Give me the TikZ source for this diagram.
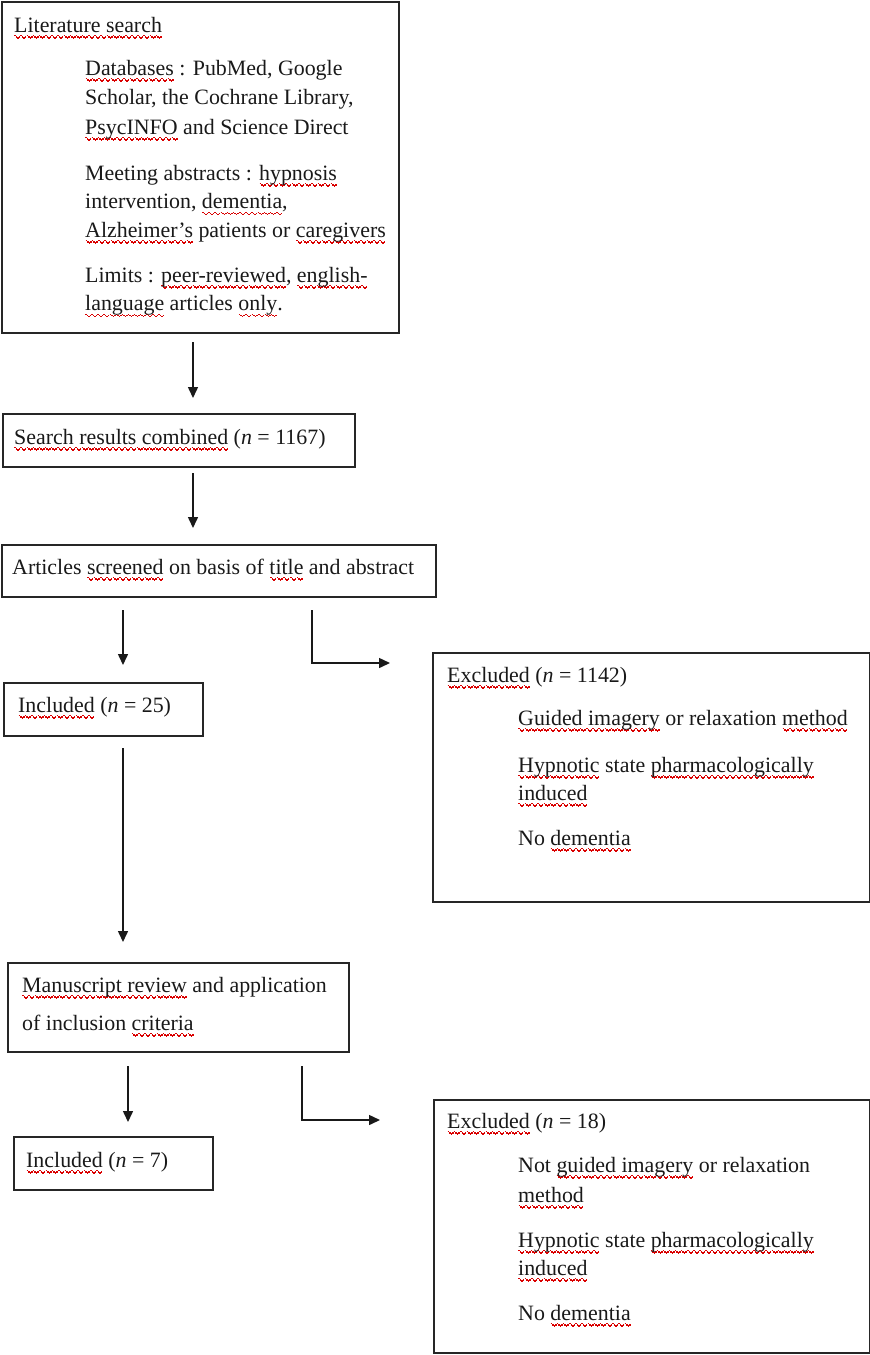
\documentclass[tikz,border=0pt]{standalone}
\usepackage{fontspec}
\setmainfont{Liberation Serif}
\usetikzlibrary{arrows.meta}
\newsavebox\rwbox
\newcommand\wavebit{\hbox{\rule[-4.4pt]{1.5pt}{1.4pt}\rule[-5.5pt]{1.5pt}{1.4pt}\rule[-6.6pt]{1.5pt}{1.4pt}\rule[-5.5pt]{1.5pt}{1.4pt}}}
\newcommand\rw[1]{\sbox\rwbox{#1}\rlap{\color{red!85!black}\hbox to\wd\rwbox{\xleaders\wavebit\hfil}}\usebox\rwbox}
\newcommand\fsz[1]{\fontsize{21.9}{#1}\selectfont}
\tikzset{
  box/.style={draw=black!85, line width=1.6pt, inner sep=0pt, anchor=north west},
  txt/.style={anchor=base west, inner sep=0pt, align=left, text=black!90},
  arr/.style={draw=black!90, line width=1.5pt, -{Triangle[length=11pt,width=10pt]}}
}
\begin{document}
\begin{tikzpicture}[x=1pt,y=-1pt]
\useasboundingbox (0,0) rectangle (870,1355);
% boxes
\node[box, minimum width=397pt, minimum height=331pt] (b1) at (1,1) {};
\node[box, minimum width=352pt, minimum height=53pt] (b2) at (2,413) {};
\node[box, minimum width=434pt, minimum height=52pt] (b3) at (1,544) {};
\node[box, minimum width=199pt, minimum height=53pt] (inc1) at (3,682) {};
\node[box, minimum width=437pt, minimum height=249pt] (exc1) at (432,652) {};
\node[box, minimum width=341pt, minimum height=89pt] (b4) at (7,962) {};
\node[box, minimum width=199pt, minimum height=53pt] (inc2) at (13,1136) {};
\node[box, minimum width=436pt, minimum height=253pt] (exc2) at (433,1099) {};
% texts (multi-line nodes: base anchor is on the last line)
\node[txt, font=\fsz{29.5}] (t1) at (14,32) {\rw{Literature search}};
\node[txt, font=\fsz{29.5}] (t2) at (85,134) {\rw{Databases} : PubMed, Google\\Scholar, the Cochrane Library,\\\rw{PsycINFO} and Science Direct};
\node[txt, font=\fsz{28.5}] (t3) at (85,237) {Meeting abstracts : \rw{hypnosis}\\intervention, \rw{dementia},\\\rw{Alzheimer’s} patients or \rw{caregivers}};
\node[txt, font=\fsz{28.5}] (t4) at (85,310.5) {Limits : \rw{peer-reviewed}, \rw{english-}\\\rw{language} articles \rw{only}.};
\node[txt, font=\fsz{29}] (t5) at (14,444) {\rw{Search results combined} (\textit{n} = 1167)};
\node[txt, font=\fsz{29}] (t6) at (12,574) {Articles \rw{screened} on basis of \rw{title} and abstract};
\node[txt, font=\fsz{29}] (t7) at (18,712) {\rw{Included} (\textit{n} = 25)};
\node[txt, font=\fsz{29}] (t8) at (447,682) {\rw{Excluded} (\textit{n} = 1142)};
\node[txt, font=\fsz{29}] (t9) at (518,725) {\rw{Guided imagery} or relaxation \rw{method}};
\node[txt, font=\fsz{28}] (t10) at (518,800) {\rw{Hypnotic} state \rw{pharmacologically}\\\rw{induced}};
\node[txt, font=\fsz{29}] (t11) at (518,845) {No \rw{dementia}};
\node[txt, font=\fsz{38}] (t12) at (22,1030) {\rw{Manuscript review} and application\\of inclusion \rw{criteria}};
\node[txt, font=\fsz{29}] (t13) at (26,1167) {\rw{Included} (\textit{n} = 7)};
\node[txt, font=\fsz{29}] (t14) at (447,1128) {\rw{Excluded} (\textit{n} = 18)};
\node[txt, font=\fsz{30}] (t15) at (518,1202) {Not \rw{guided imagery} or relaxation\\\rw{method}};
\node[txt, font=\fsz{28}] (t16) at (518,1275) {\rw{Hypnotic} state \rw{pharmacologically}\\\rw{induced}};
\node[txt, font=\fsz{29}] (t17) at (518,1320) {No \rw{dementia}};
% connector end points
\coordinate (a1s) at (193,342);  \coordinate (a1e) at (193,398);
\coordinate (a2s) at (193,473);  \coordinate (a2e) at (193,528);
\coordinate (a3s) at (123,610);  \coordinate (a3e) at (123,665);
\coordinate (e1s) at (312,610);  \coordinate (e1e) at (390,663);
\coordinate (a4s) at (123,748);  \coordinate (a4e) at (123,942);
\coordinate (a5s) at (128,1066); \coordinate (a5e) at (128,1122);
\coordinate (e2s) at (302,1066); \coordinate (e2e) at (380,1120);
% connectors
\draw[arr] (a1s) -- (a1e);
\draw[arr] (a2s) -- (a2e);
\draw[arr] (a3s) -- (a3e);
\draw[arr] (e1s) |- (e1e);
\draw[arr] (a4s) -- (a4e);
\draw[arr] (a5s) -- (a5e);
\draw[arr] (e2s) |- (e2e);
\end{tikzpicture}
\end{document}
